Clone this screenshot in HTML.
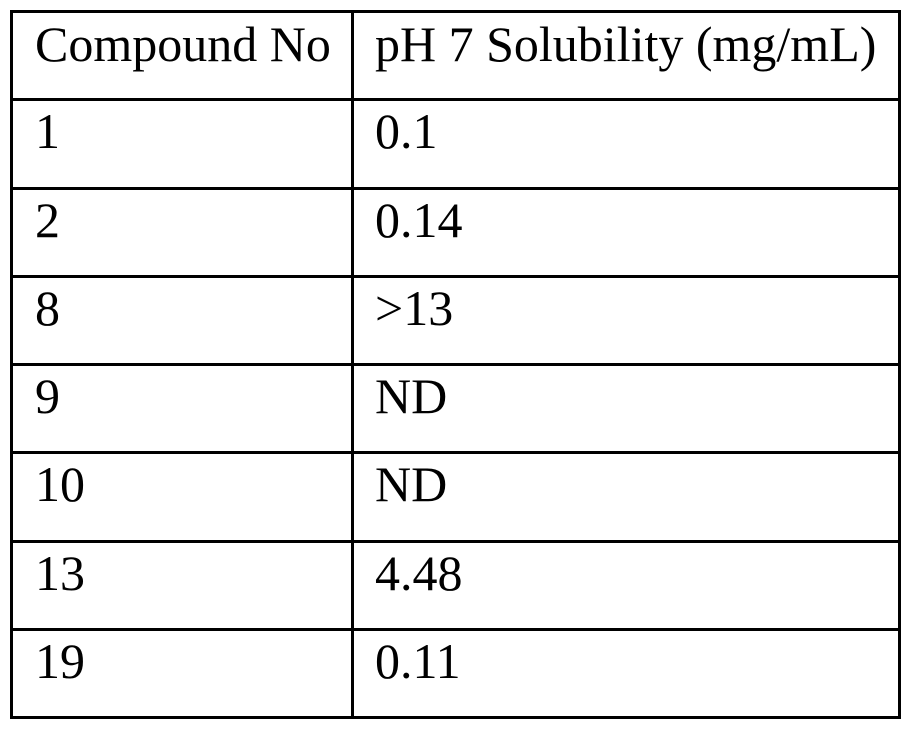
<!DOCTYPE html>
<html><head><style>
body{margin:0;background:#fff;width:912px;height:731px;position:relative;overflow:hidden;font-family:"Liberation Serif",serif;font-size:50px;color:#000}
.h{position:absolute;left:10px;width:891px;height:3px;background:#000}
.v{position:absolute;top:11px;width:3px;height:708px;background:#000}
.t{position:absolute;line-height:1;white-space:nowrap}
</style></head><body>
<div class="h" style="top:10px"></div>
<div class="h" style="top:98px"></div>
<div class="h" style="top:187px"></div>
<div class="h" style="top:275px"></div>
<div class="h" style="top:363px"></div>
<div class="h" style="top:451px"></div>
<div class="h" style="top:540px"></div>
<div class="h" style="top:628px"></div>
<div class="h" style="top:716px"></div>
<div class="v" style="left:10px"></div>
<div class="v" style="left:351px"></div>
<div class="v" style="left:898px"></div>
<div class="t" style="left:35px;top:19px">Compound No</div>
<div class="t" style="left:375px;top:19px">pH 7 Solubility (mg/mL)</div>
<div class="t" style="left:35px;top:106px">1</div><div class="t" style="left:375px;top:106px">0.1</div>
<div class="t" style="left:35px;top:195px">2</div><div class="t" style="left:375px;top:195px">0.14</div>
<div class="t" style="left:35px;top:283px">8</div><div class="t" style="left:375px;top:283px">&gt;13</div>
<div class="t" style="left:35px;top:371px">9</div><div class="t" style="left:375px;top:371px">ND</div>
<div class="t" style="left:35px;top:459px">10</div><div class="t" style="left:375px;top:459px">ND</div>
<div class="t" style="left:35px;top:548px">13</div><div class="t" style="left:375px;top:548px">4.48</div>
<div class="t" style="left:35px;top:636px">19</div><div class="t" style="left:375px;top:636px">0.11</div>
</body></html>
